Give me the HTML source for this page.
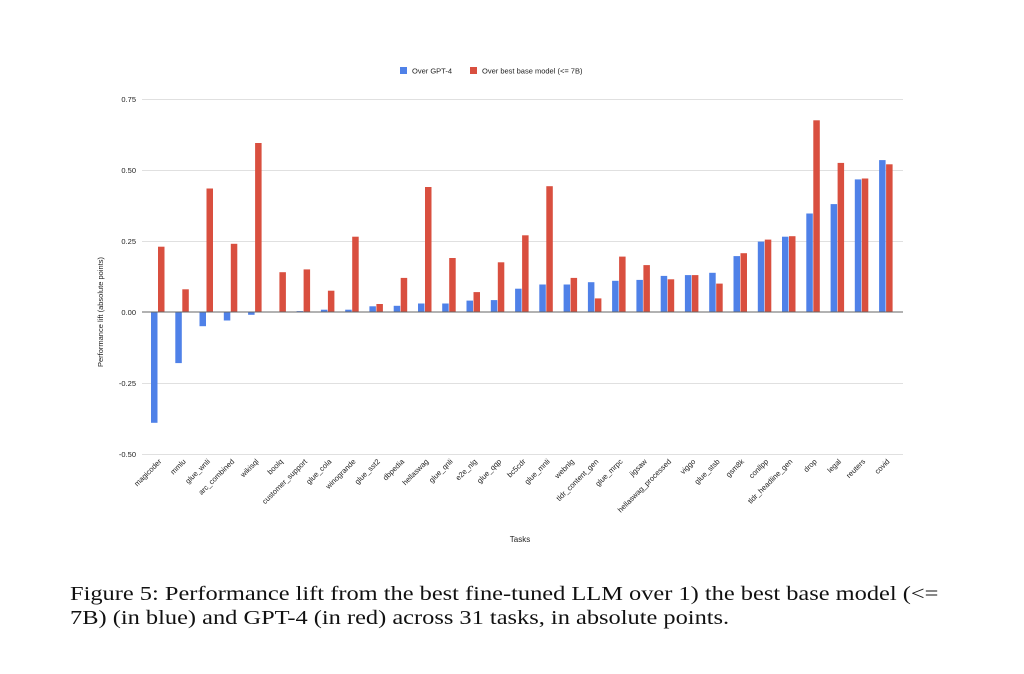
<!DOCTYPE html>
<html><head><meta charset="utf-8"><style>
body{margin:0;background:#fff;width:1024px;height:674px;overflow:hidden}
svg text{font-family:"Liberation Sans",Arial,sans-serif;fill:#222}
.cap{position:absolute;left:70px;top:582px;font-family:"Liberation Serif",serif;font-size:20px;line-height:24px;color:#111;white-space:nowrap;transform:scaleX(1.22);transform-origin:0 0}
</style></head><body>
<svg width="1024" height="674" style="position:absolute;left:0;top:0">
<g stroke="#e0e0e0" stroke-width="1">
<line x1="142" x2="903" y1="99.5" y2="99.5"/><line x1="142" x2="903" y1="170.5" y2="170.5"/><line x1="142" x2="903" y1="241.5" y2="241.5"/><line x1="142" x2="903" y1="383.5" y2="383.5"/><line x1="142" x2="903" y1="454.5" y2="454.5"/>
</g>
<g font-size="7.5" text-anchor="end">
<text x="136" y="102">0.75</text><text x="136" y="173">0.50</text><text x="136" y="244">0.25</text><text x="136" y="315">0.00</text><text x="136" y="386">-0.25</text><text x="136" y="457">-0.50</text>
</g>
<g fill="#4f81e8">
<rect x="151" y="312" width="6.5" height="110.8"/>
<rect x="175.3" y="312" width="6.5" height="51.1"/>
<rect x="199.5" y="312" width="6.5" height="14.2"/>
<rect x="223.8" y="312" width="6.5" height="8.5"/>
<rect x="248.1" y="312" width="6.5" height="2.8"/>
<rect x="272.4" y="311.5" width="6.5" height="0.5"/>
<rect x="296.6" y="311.1" width="6.5" height="0.9"/>
<rect x="320.9" y="309.7" width="6.5" height="2.3"/>
<rect x="345.2" y="309.7" width="6.5" height="2.3"/>
<rect x="369.4" y="306.3" width="6.5" height="5.7"/>
<rect x="393.7" y="305.8" width="6.5" height="6.2"/>
<rect x="418" y="303.5" width="6.5" height="8.5"/>
<rect x="442.2" y="303.5" width="6.5" height="8.5"/>
<rect x="466.5" y="300.6" width="6.5" height="11.4"/>
<rect x="490.8" y="300.1" width="6.5" height="11.9"/>
<rect x="515.1" y="288.7" width="6.5" height="23.3"/>
<rect x="539.3" y="284.5" width="6.5" height="27.5"/>
<rect x="563.6" y="284.5" width="6.5" height="27.5"/>
<rect x="587.9" y="282.2" width="6.5" height="29.8"/>
<rect x="612.1" y="280.8" width="6.5" height="31.2"/>
<rect x="636.4" y="279.9" width="6.5" height="32.1"/>
<rect x="660.7" y="275.9" width="6.5" height="36.1"/>
<rect x="684.9" y="275.1" width="6.5" height="36.9"/>
<rect x="709.2" y="272.8" width="6.5" height="39.2"/>
<rect x="733.5" y="256.1" width="6.5" height="55.9"/>
<rect x="757.8" y="241.6" width="6.5" height="70.4"/>
<rect x="782" y="236.7" width="6.5" height="75.3"/>
<rect x="806.3" y="213.5" width="6.5" height="98.5"/>
<rect x="830.6" y="204.1" width="6.5" height="107.9"/>
<rect x="854.8" y="179.4" width="6.5" height="132.6"/>
<rect x="879.1" y="160.1" width="6.5" height="151.9"/>
</g>
<g fill="#d94f3f">
<rect x="158" y="246.7" width="6.5" height="65.3"/>
<rect x="182.3" y="289.3" width="6.5" height="22.7"/>
<rect x="206.5" y="188.5" width="6.5" height="123.5"/>
<rect x="230.8" y="243.8" width="6.5" height="68.2"/>
<rect x="255.1" y="143" width="6.5" height="169"/>
<rect x="279.4" y="272.2" width="6.5" height="39.8"/>
<rect x="303.6" y="269.4" width="6.5" height="42.6"/>
<rect x="327.9" y="290.7" width="6.5" height="21.3"/>
<rect x="352.2" y="236.7" width="6.5" height="75.3"/>
<rect x="376.4" y="304" width="6.5" height="8"/>
<rect x="400.7" y="277.9" width="6.5" height="34.1"/>
<rect x="425" y="187" width="6.5" height="125"/>
<rect x="449.2" y="258" width="6.5" height="54"/>
<rect x="473.5" y="292.1" width="6.5" height="19.9"/>
<rect x="497.8" y="262.3" width="6.5" height="49.7"/>
<rect x="522.1" y="235.3" width="6.5" height="76.7"/>
<rect x="546.3" y="186.2" width="6.5" height="125.8"/>
<rect x="570.6" y="277.9" width="6.5" height="34.1"/>
<rect x="594.9" y="298.4" width="6.5" height="13.6"/>
<rect x="619.1" y="256.6" width="6.5" height="55.4"/>
<rect x="643.4" y="265.1" width="6.5" height="46.9"/>
<rect x="667.7" y="279.3" width="6.5" height="32.7"/>
<rect x="691.9" y="275.1" width="6.5" height="36.9"/>
<rect x="716.2" y="283.6" width="6.5" height="28.4"/>
<rect x="740.5" y="253.2" width="6.5" height="58.8"/>
<rect x="764.8" y="239.6" width="6.5" height="72.4"/>
<rect x="789" y="236.2" width="6.5" height="75.8"/>
<rect x="813.3" y="120.3" width="6.5" height="191.7"/>
<rect x="837.6" y="162.9" width="6.5" height="149.1"/>
<rect x="861.8" y="178.5" width="6.5" height="133.5"/>
<rect x="886.1" y="164.3" width="6.5" height="147.7"/>
</g>
<line x1="142" x2="903" y1="312" y2="312" stroke="#666" stroke-width="1"/>
<g font-size="7.5" text-anchor="end">
<text transform="translate(162,462) rotate(-45)">magicoder</text>
<text transform="translate(186.3,462) rotate(-45)">mmlu</text>
<text transform="translate(210.5,462) rotate(-45)">glue_wnli</text>
<text transform="translate(234.8,462) rotate(-45)">arc_combined</text>
<text transform="translate(259.1,462) rotate(-45)">wikisql</text>
<text transform="translate(283.4,462) rotate(-45)">boolq</text>
<text transform="translate(307.6,462) rotate(-45)">customer_support</text>
<text transform="translate(331.9,462) rotate(-45)">glue_cola</text>
<text transform="translate(356.2,462) rotate(-45)">winogrande</text>
<text transform="translate(380.4,462) rotate(-45)">glue_sst2</text>
<text transform="translate(404.7,462) rotate(-45)">dbpedia</text>
<text transform="translate(429,462) rotate(-45)">hellaswag</text>
<text transform="translate(453.2,462) rotate(-45)">glue_qnli</text>
<text transform="translate(477.5,462) rotate(-45)">e2e_nlg</text>
<text transform="translate(501.8,462) rotate(-45)">glue_qqp</text>
<text transform="translate(526.1,462) rotate(-45)">bc5cdr</text>
<text transform="translate(550.3,462) rotate(-45)">glue_mnli</text>
<text transform="translate(574.6,462) rotate(-45)">webnlg</text>
<text transform="translate(598.9,462) rotate(-45)">tldr_content_gen</text>
<text transform="translate(623.1,462) rotate(-45)">glue_mrpc</text>
<text transform="translate(647.4,462) rotate(-45)">jigsaw</text>
<text transform="translate(671.7,462) rotate(-45)">hellaswag_processed</text>
<text transform="translate(695.9,462) rotate(-45)">viggo</text>
<text transform="translate(720.2,462) rotate(-45)">glue_stsb</text>
<text transform="translate(744.5,462) rotate(-45)">gsm8k</text>
<text transform="translate(768.8,462) rotate(-45)">conllpp</text>
<text transform="translate(793,462) rotate(-45)">tldr_headline_gen</text>
<text transform="translate(817.3,462) rotate(-45)">drop</text>
<text transform="translate(841.6,462) rotate(-45)">legal</text>
<text transform="translate(865.8,462) rotate(-45)">reuters</text>
<text transform="translate(890.1,462) rotate(-45)">covid</text>
</g>
<text x="520" y="542" font-size="8" text-anchor="middle">Tasks</text>
<text transform="translate(103,312) rotate(-90)" font-size="7.5" text-anchor="middle">Performance lift (absolute points)</text>
<rect x="400" y="67" width="7" height="7" fill="#4f81e8"/>
<text x="412" y="73.5" font-size="7.5">Over GPT-4</text>
<rect x="470" y="67" width="7" height="7" fill="#d94f3f"/>
<text x="482" y="73.5" font-size="7.5">Over best base model (&lt;= 7B)</text>
</svg>
<div class="cap">Figure 5: Performance lift from the best fine-tuned LLM over 1) the best base model (&lt;=<br>7B) (in blue) and GPT-4 (in red) across 31 tasks, in absolute points.</div>
</body></html>
